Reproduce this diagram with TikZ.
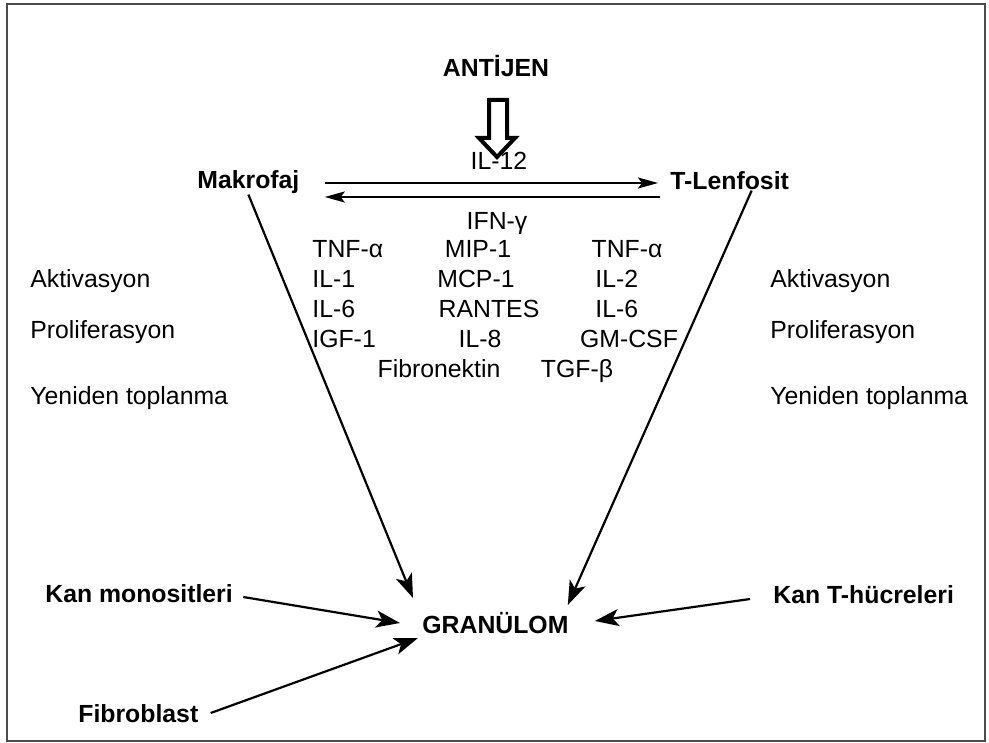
\documentclass[tikz,border=0pt]{standalone}
\usepackage{fontspec}
\setmainfont{Liberation Sans}
\usetikzlibrary{arrows.meta}

\tikzset{
    txt/.style={inner sep=0pt, font=\fontsize{12.4}{15}\selectfont},
    btxt/.style={inner sep=0pt, font=\fontsize{12.4}{15}\selectfont\bfseries},
    link/.style={line width=1.1pt, -{Stealth[length=12pt,width=8.5pt,inset=3pt]}},
    flow/.style={line width=1pt, -{Stealth[length=10pt,width=5.5pt,inset=2pt]}}
}

\begin{document}
\begin{tikzpicture}[x=0.5pt,y=-0.5pt]

    % Fix the page size and draw the frame
    \useasboundingbox (0,0) rectangle (989,743);
    \draw[line width=1pt, black!70] (7,4) rectangle (985,741);

    % The antigen and its hollow arrow
    \node[btxt, anchor=base] (antijen) at (496,77) {ANTİJEN};
    \coordinate (tip) at (497,157);
    \draw[line width=2pt, line join=miter] (tip) -- ++(-18,-19) -- ++(10,0) -- ++(0,-38)
        -- ++(18,0) -- ++(0,38) -- ++(8,0) -- cycle;

    % The two cells
    \node[btxt, anchor=base west] (makrofaj) at (197,189) {Makrofaj};
    \node[btxt, anchor=base west] (tlenf) at (670,190) {T-Lenfosit};

    % IL-12 and IFN-gamma between them
    \node[txt, anchor=base] (il12) at (499,170) {IL-12};
    \draw[flow] ([shift={(25,-6)}]makrofaj.base east) -- ([shift={(-12,-7)}]tlenf.base west);
    \draw[flow] ([shift={(-10,7)}]tlenf.base west) -- ([shift={(25,8)}]makrofaj.base east);
    \node[txt, anchor=base] (ifn) at (497,229) {IFN-γ};

    % Cytokines of the macrophage
    \node[txt, anchor=base west] (m1) at (312,257) {TNF-α};
    \node[txt, anchor=base west] (m2) at (312,287) {IL-1};
    \node[txt, anchor=base west] (m3) at (312,317) {IL-6};
    \node[txt, anchor=base west] (m4) at (312,347) {IGF-1};

    % Chemokines in the middle
    \node[txt, anchor=base] (c1) at (478,257) {MIP-1};
    \node[txt, anchor=base] (c2) at (476,287) {MCP-1};
    \node[txt, anchor=base] (c3) at (489,317) {RANTES};
    \node[txt, anchor=base] (c4) at (480,347) {IL-8};
    \node[txt, anchor=base] (c5) at (439,377) {Fibronektin};

    % Cytokines of the T cell
    \node[txt, anchor=base] (t1) at (627,257) {TNF-α};
    \node[txt, anchor=base west] (t2) at (595,287) {IL-2};
    \node[txt, anchor=base west] (t3) at (595,317) {IL-6};
    \node[txt, anchor=base] (t4) at (629,347) {GM-CSF};
    \node[txt, anchor=base] (t5) at (577,377) {TGF-β};

    % Effects on both sides
    \node[txt, anchor=base west] (la) at (30,287) {Aktivasyon};
    \node[txt, anchor=base west] (lp) at (30,338) {Proliferasyon};
    \node[txt, anchor=base west] (ly) at (30,404) {Yeniden toplanma};
    \node[txt, anchor=base west] (ra) at (770,287) {Aktivasyon};
    \node[txt, anchor=base west] (rp) at (770,338) {Proliferasyon};
    \node[txt, anchor=base west] (ry) at (770,404) {Yeniden toplanma};

    % The granuloma and what feeds it
    \node[btxt, anchor=base west] (granulom) at (422,633) {GRANÜLOM};
    \node[btxt, anchor=base west] (kanmono) at (45,602) {Kan monositleri};
    \node[btxt, anchor=base west] (fibro) at (78,722) {Fibroblast};
    \node[btxt, anchor=base west] (kant) at (773,603) {Kan T-hücreleri};

    % Arrows into the granuloma
    \draw[link] (makrofaj.south) -- ([shift={(-9,-35)}]granulom.base west);
    \draw[link] ([xshift=11pt]tlenf.south) -- ([shift={(-1,-28)}]granulom.base east);
    \draw[link] ([shift={(10,-5)}]kanmono.base east) -- ([shift={(-22,-10)}]granulom.base west);
    \draw[link] ([shift={(12,-9)}]fibro.base east) -- ([shift={(-4,5)}]granulom.base west);
    \draw[link] ([shift={(-23,-4)}]kant.base west) -- ([shift={(26,-12)}]granulom.base east);

\end{tikzpicture}
\end{document}
